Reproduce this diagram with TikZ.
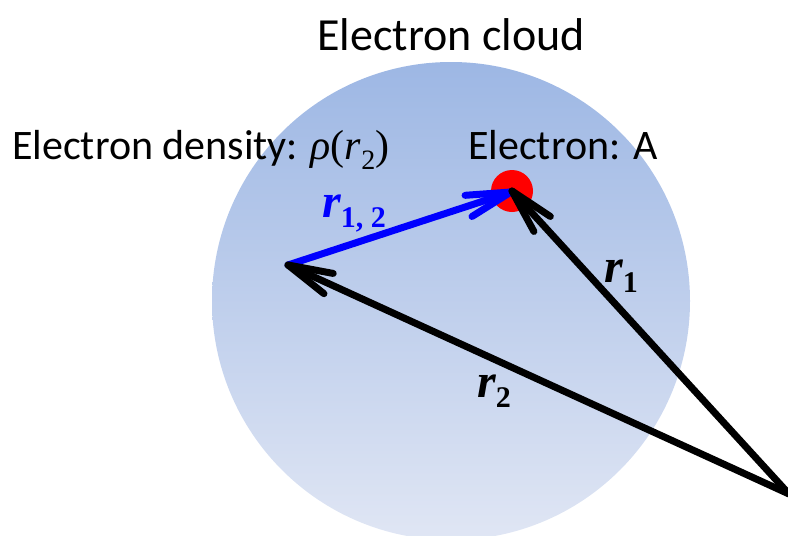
\documentclass[tikz,border=0pt]{standalone}
\usepackage{fontspec}
\setmainfont{Carlito}
\newfontfamily\tms{Liberation Serif}
\newfontfamily\tmsbi{Liberation Serif Bold Italic}
\newfontfamily\tmsb{Liberation Serif Bold}
\usetikzlibrary{calc}
\newcommand\vecr[1]{{\tmsbi\fontsize{48}{48}\selectfont r}\raisebox{-0.26em}{\tmsb\fontsize{30}{30}\selectfont #1}}
\newcommand\barbhead[3][black]{\draw[vec,#1] ($(#3)!46pt!14:(#2)$) -- (#3) -- ($(#3)!46pt!-14:(#2)$);}
\tikzset{
  vec/.style={line width=7pt, line cap=round, line join=round},
  lbl/.style={inner sep=0pt, anchor=base west, font=\fontsize{42}{42}\selectfont},
}
\begin{document}
\begin{tikzpicture}[x=1pt,y=-1pt]
\useasboundingbox (0,0) rectangle (788,536);
\definecolor{cloudtop}{RGB}{157,183,228}
\definecolor{cloudbot}{RGB}{224,230,244}
\shade[top color=cloudtop, bottom color=cloudbot, shading angle=0] (451,301) circle[radius=239];
\node[inner sep=0pt, anchor=base, font=\fontsize{46}{46}\selectfont] (title) at (451,50) {Electron cloud};
\node[lbl] (dens) at (12,159) {Electron density: {\tms\itshape ρ}{\tms(}{\tms\itshape r}\raisebox{-0.26em}{\tms\fontsize{28}{28}\selectfont 2}{\tms)}};
\node[lbl] (elA) at (468,159) {Electron: A};
\node[circle, fill=red, minimum size=42pt, inner sep=0pt] (A) at (512,191) {};
\coordinate (P) at (288,265);
\coordinate (O) at (789,494);
\coordinate (T) at (511,192);
\draw[vec, blue] (P) -- (T);
\barbhead[blue]{P}{T}
\draw[vec] (O) -- (P);
\barbhead{O}{P}
\draw[vec] (O) -- (A.center);
\barbhead{O}{A.center}
\node[lbl, text=blue] (r12) at (322,217) {\vecr{1, 2}};
\node[lbl] (r1) at (604,282) {\vecr{1}};
\node[lbl] (r2) at (477,397) {\vecr{2}};
\end{tikzpicture}
\end{document}
